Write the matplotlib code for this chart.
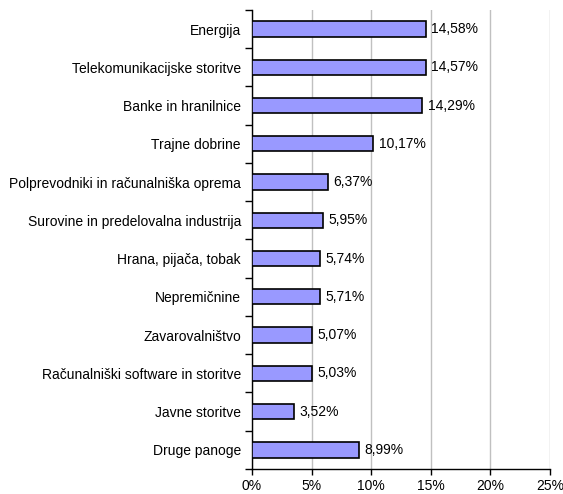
import numpy as np
import matplotlib.pyplot as plt
from matplotlib.ticker import FixedLocator

plt.rcParams['font.family'] = ['Liberation Sans', 'DejaVu Sans']

# data
categories = ['Energija', 'Telekomunikacijske storitve', 'Banke in hranilnice',
              'Trajne dobrine', 'Polprevodniki in računalniška oprema',
              'Surovine in predelovalna industrija', 'Hrana, pijača, tobak',
              'Nepremičnine', 'Zavarovalništvo', 'Računalniški software in storitve',
              'Javne storitve', 'Druge panoge']
values = [14.58, 14.57, 14.29, 10.17, 6.37, 5.95, 5.74, 5.71, 5.07, 5.03, 3.52, 8.99]
xticks = [0, 5, 10, 15, 20, 25]

fig = plt.figure(figsize=(5.63, 4.94), dpi=100)
ax = fig.add_axes([0.4476, 0.0506, 0.5295, 0.9294])

n = len(categories)
y = np.arange(n)
ax.barh(y, values, height=0.4, color='#9999FF', edgecolor='black', linewidth=1.2, zorder=3)

for yi, v in zip(y, values):
    ax.text(v + 0.45, yi, f'{v:.2f}'.replace('.', ',') + '%', va='center', ha='left',
            fontsize=10, zorder=4)

ax.set_ylim(n - 0.5, -0.5)
ax.set_xlim(0, 25)
ax.set_yticks(y)
ax.set_yticklabels(categories, fontsize=10)
ax.tick_params(axis='y', length=0, pad=8)
ax.yaxis.set_minor_locator(FixedLocator(np.arange(-0.5, n, 1)))
ax.tick_params(axis='y', which='minor', length=5, direction='out', width=1)

ax.set_xticks(xticks)
ax.set_xticklabels([f'{t}%' for t in xticks], fontsize=10)
ax.tick_params(axis='x', length=4, direction='out', width=1, pad=3)
ax.xaxis.grid(True, color='#C0C0C0', linewidth=1, zorder=0)

ax.spines['top'].set_visible(False)
ax.spines['right'].set_visible(False)
ax.spines['left'].set_linewidth(1)
ax.spines['bottom'].set_linewidth(1)

fig.savefig('out.png', dpi=100)
